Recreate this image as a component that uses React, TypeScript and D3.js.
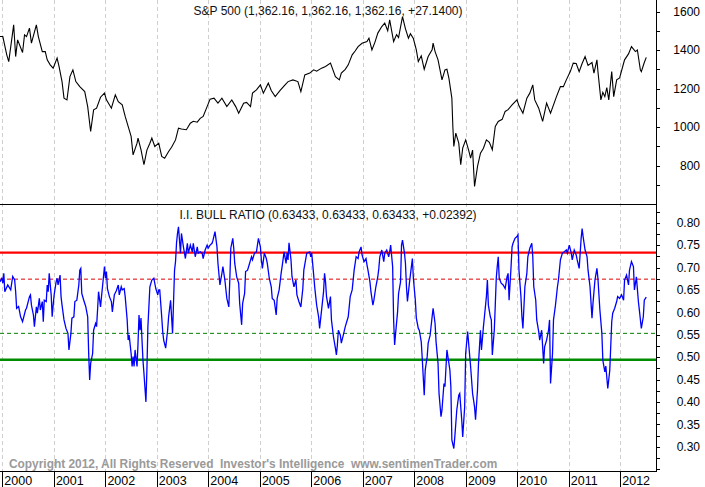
import React, { useEffect, useRef } from 'react';
import * as d3 from 'd3';

// weekly points: [weeks after 2000-01-01, value]
const spx: [number, number][] = [
  [-3, 1470], [0, 1470], [4, 1375], [6, 1340], [11, 1531], [13, 1366], [15, 1453], [20, 1387],
  [22, 1479], [24, 1470], [27, 1514], [29, 1436], [34, 1531], [36, 1470], [40, 1392], [43, 1392],
  [45, 1349], [48, 1323], [51, 1306], [55, 1358], [57, 1314], [60, 1236], [62, 1150], [65, 1141],
  [68, 1262], [71, 1297], [74, 1236], [78, 1210], [83, 1184], [86, 1106], [89, 977], [92, 1089],
  [95, 1098], [99, 1155], [103, 1176], [105, 1141], [110, 1098], [114, 1167], [117, 1132], [121, 1115],
  [124, 1055], [127, 1003], [130, 951], [132, 855], [136, 916], [137, 942], [140, 882], [143, 804],
  [146, 880], [149, 916], [151, 942], [154, 899], [158, 916], [161, 847], [164, 838], [168, 873],
  [171, 895], [175, 933], [178, 994], [181, 990], [186, 986], [190, 1020], [193, 1030], [197, 1025],
  [200, 1045], [203, 1055], [207, 1106], [210, 1145], [214, 1150], [218, 1124], [222, 1150], [227, 1106],
  [232, 1141], [236, 1106], [239, 1072], [244, 1124], [247, 1128], [251, 1106], [253, 1176], [257, 1193],
  [261, 1219], [264, 1176], [269, 1228], [272, 1190], [276, 1158], [281, 1190], [286, 1219], [289, 1236],
  [294, 1245], [299, 1236], [302, 1184], [306, 1271], [311, 1280], [315, 1297], [318, 1290], [323, 1306],
  [327, 1315], [332, 1332], [337, 1262], [341, 1245], [343, 1280], [347, 1300], [350, 1323], [354, 1375],
  [357, 1395], [360, 1418], [364, 1435], [369, 1444], [371, 1462], [374, 1401], [377, 1440], [380, 1488],
  [384, 1522], [387, 1540], [390, 1500], [392, 1557], [396, 1444], [399, 1480], [401, 1465], [405, 1574],
  [408, 1510], [411, 1462], [413, 1485], [416, 1460], [419, 1401], [421, 1340], [424, 1370], [427, 1300],
  [431, 1366], [435, 1401], [436, 1436], [438, 1392], [441, 1349], [445, 1245], [448, 1297], [450, 1300],
  [452, 1254], [455, 1150], [456, 1003], [457, 899], [459, 968], [462, 916], [464, 804], [466, 890],
  [469, 933], [472, 880], [474, 838], [476, 880], [478, 691], [481, 795], [484, 864], [487, 890],
  [490, 933], [493, 920], [496, 882], [499, 1003], [502, 1029], [506, 1040], [509, 1081], [512, 1090],
  [516, 1115], [521, 1141], [523, 1110], [527, 1072], [531, 1150], [534, 1176], [537, 1219], [539, 1141],
  [543, 1098], [547, 1029], [551, 1124], [555, 1072], [561, 1158], [565, 1210], [568, 1210], [571, 1245],
  [575, 1288], [578, 1332], [581, 1330], [584, 1288], [587, 1330], [590, 1366], [593, 1320], [597, 1335],
  [599, 1280], [602, 1349], [603, 1290], [606, 1141], [608, 1180], [610, 1158], [612, 1205], [614, 1141],
  [617, 1288], [619, 1158], [622, 1245], [625, 1255], [630, 1349], [634, 1380], [637, 1418], [641, 1392],
  [643, 1400], [646, 1297], [647, 1288], [650, 1335], [652, 1362],
];

const bullRatio: [number, number][] = [
  [-3, 0.668], [-1, 0.676], [0, 0.665], [1, 0.687], [2, 0.646], [5, 0.661], [8, 0.650], [10, 0.680],
  [12, 0.672], [13, 0.646], [14, 0.609], [16, 0.613], [18, 0.590], [20, 0.579], [23, 0.605], [24, 0.609],
  [27, 0.635], [28, 0.639], [29, 0.616], [31, 0.594], [32, 0.568], [34, 0.612], [35, 0.598], [37, 0.631],
  [38, 0.605], [40, 0.624], [41, 0.579], [42, 0.627], [44, 0.624], [45, 0.661], [46, 0.646], [47, 0.687],
  [49, 0.639], [50, 0.590], [51, 0.616], [52, 0.639], [54, 0.668], [55, 0.676], [56, 0.661], [58, 0.683],
  [59, 0.635], [60, 0.616], [62, 0.583], [64, 0.564], [66, 0.553], [67, 0.516], [69, 0.553], [70, 0.587],
  [72, 0.590], [73, 0.624], [75, 0.627], [77, 0.661], [78, 0.694], [79, 0.698], [80, 0.642], [82, 0.627],
  [84, 0.613], [86, 0.590], [87, 0.508], [88, 0.449], [89, 0.486], [91, 0.508], [92, 0.560], [94, 0.575],
  [95, 0.568], [96, 0.605], [97, 0.646], [99, 0.612], [100, 0.635], [101, 0.657], [103, 0.702], [104, 0.676],
  [105, 0.691], [106, 0.653], [108, 0.635], [110, 0.624], [111, 0.601], [113, 0.639], [115, 0.648], [117, 0.661],
  [118, 0.639], [120, 0.657], [121, 0.650], [123, 0.653], [124, 0.635], [126, 0.583], [127, 0.538], [128, 0.549],
  [130, 0.508], [131, 0.479], [132, 0.501], [133, 0.479], [134, 0.516], [136, 0.479], [137, 0.531], [138, 0.594],
  [139, 0.560], [140, 0.587], [142, 0.493], [143, 0.464], [145, 0.400], [146, 0.471], [147, 0.568], [148, 0.612],
  [149, 0.657], [151, 0.672], [153, 0.676], [155, 0.653], [157, 0.639], [158, 0.650], [159, 0.650], [161, 0.590],
  [162, 0.557], [163, 0.538], [165, 0.520], [167, 0.560], [168, 0.590], [170, 0.627], [172, 0.553], [174, 0.694],
  [175, 0.713], [176, 0.754], [177, 0.776], [178, 0.791], [180, 0.732], [181, 0.776], [183, 0.746], [185, 0.720],
  [187, 0.754], [188, 0.732], [190, 0.750], [192, 0.735], [193, 0.754], [195, 0.724], [197, 0.746], [198, 0.732],
  [200, 0.735], [202, 0.732], [203, 0.720], [205, 0.739], [207, 0.750], [208, 0.743], [210, 0.750], [212, 0.754],
  [213, 0.761], [215, 0.780], [217, 0.746], [218, 0.709], [220, 0.661], [222, 0.687], [223, 0.702], [225, 0.672],
  [227, 0.631], [229, 0.612], [230, 0.672], [231, 0.743], [233, 0.765], [234, 0.743], [235, 0.709], [237, 0.679],
  [239, 0.665], [240, 0.620], [242, 0.572], [243, 0.620], [245, 0.642], [246, 0.691], [248, 0.694], [250, 0.709],
  [252, 0.724], [253, 0.717], [255, 0.732], [257, 0.735], [258, 0.750], [259, 0.765], [261, 0.746], [262, 0.717],
  [263, 0.698], [265, 0.732], [267, 0.720], [268, 0.709], [270, 0.676], [272, 0.657], [273, 0.631], [275, 0.627],
  [277, 0.594], [278, 0.631], [280, 0.650], [282, 0.687], [283, 0.702], [285, 0.735], [287, 0.709], [288, 0.732],
  [289, 0.717], [290, 0.755], [292, 0.717], [293, 0.680], [295, 0.657], [297, 0.672], [298, 0.639], [300, 0.624],
  [302, 0.612], [304, 0.653], [305, 0.694], [307, 0.720], [308, 0.732], [311, 0.735], [312, 0.724], [313, 0.732],
  [315, 0.683], [316, 0.657], [318, 0.616], [320, 0.590], [321, 0.564], [323, 0.605], [325, 0.646], [326, 0.687],
  [327, 0.668], [328, 0.635], [330, 0.609], [332, 0.635], [333, 0.583], [335, 0.546], [337, 0.520], [338, 0.505],
  [339, 0.527], [340, 0.560], [342, 0.549], [343, 0.531], [345, 0.549], [347, 0.568], [350, 0.590], [352, 0.635],
  [354, 0.650], [356, 0.694], [358, 0.724], [360, 0.720], [361, 0.735], [363, 0.746], [364, 0.728], [366, 0.713],
  [368, 0.720], [369, 0.706], [370, 0.694], [372, 0.668], [373, 0.646], [375, 0.616], [376, 0.627], [378, 0.657],
  [380, 0.680], [381, 0.698], [382, 0.724], [384, 0.739], [386, 0.713], [387, 0.732], [389, 0.739], [391, 0.724],
  [392, 0.735], [393, 0.750], [395, 0.702], [396, 0.583], [397, 0.527], [398, 0.553], [400, 0.601], [401, 0.642],
  [403, 0.668], [404, 0.750], [405, 0.761], [407, 0.732], [408, 0.709], [409, 0.657], [410, 0.624], [412, 0.665],
  [414, 0.702], [415, 0.720], [416, 0.676], [418, 0.627], [419, 0.587], [421, 0.564], [422, 0.560], [424, 0.534],
  [425, 0.497], [427, 0.415], [428, 0.471], [430, 0.501], [431, 0.531], [433, 0.549], [435, 0.590], [436, 0.609],
  [438, 0.575], [439, 0.534], [441, 0.486], [442, 0.419], [444, 0.367], [445, 0.382], [447, 0.441], [448, 0.434],
  [450, 0.516], [451, 0.501], [453, 0.471], [454, 0.434], [455, 0.315], [457, 0.296], [458, 0.322], [460, 0.382],
  [462, 0.415], [463, 0.419], [465, 0.360], [466, 0.322], [468, 0.389], [469, 0.508], [471, 0.557], [472, 0.531],
  [474, 0.479], [476, 0.419], [478, 0.389], [479, 0.360], [481, 0.427], [482, 0.486], [484, 0.560], [485, 0.516],
  [487, 0.568], [488, 0.590], [490, 0.635], [491, 0.672], [492, 0.616], [494, 0.590], [495, 0.583], [496, 0.505],
  [498, 0.560], [499, 0.616], [500, 0.676], [501, 0.702], [502, 0.724], [503, 0.676], [505, 0.665], [507, 0.661],
  [509, 0.653], [511, 0.680], [512, 0.687], [513, 0.627], [515, 0.702], [516, 0.746], [517, 0.754], [519, 0.765],
  [521, 0.769], [522, 0.773], [523, 0.694], [525, 0.635], [526, 0.590], [527, 0.564], [529, 0.657], [531, 0.687],
  [532, 0.724], [534, 0.743], [536, 0.754], [537, 0.724], [538, 0.657], [540, 0.627], [541, 0.583], [543, 0.557],
  [544, 0.538], [546, 0.560], [548, 0.486], [549, 0.523], [551, 0.538], [553, 0.560], [554, 0.583], [555, 0.441],
  [557, 0.508], [558, 0.583], [560, 0.616], [562, 0.657], [563, 0.672], [565, 0.717], [567, 0.732], [569, 0.735],
  [571, 0.739], [572, 0.732], [574, 0.750], [576, 0.732], [577, 0.717], [579, 0.739], [581, 0.728], [582, 0.717],
  [584, 0.698], [586, 0.765], [587, 0.787], [588, 0.769], [590, 0.739], [592, 0.724], [593, 0.694], [595, 0.657],
  [597, 0.587], [598, 0.620], [600, 0.672], [602, 0.698], [603, 0.676], [605, 0.605], [607, 0.553], [608, 0.493],
  [610, 0.467], [611, 0.480], [613, 0.430], [615, 0.470], [617, 0.579], [618, 0.598], [620, 0.609], [622, 0.624],
  [623, 0.635], [625, 0.631], [627, 0.639], [629, 0.627], [630, 0.672], [632, 0.683], [634, 0.661], [635, 0.694],
  [637, 0.713], [639, 0.702], [640, 0.650], [642, 0.679], [644, 0.624], [645, 0.605], [647, 0.564], [649, 0.590],
  [650, 0.627], [652, 0.634],
];

const years = d3.range(2000, 2013);
const spxTicks = [800, 1000, 1200, 1400, 1600];
const ratioTicks = [0.30, 0.35, 0.40, 0.45, 0.50, 0.55, 0.60, 0.65, 0.70, 0.75, 0.80];
const ratioLevels = [0.733, 0.674, 0.553, 0.494];
const spxTitle = 'S&P 500 (1,362.16, 1,362.16, 1,362.16, +27.1400)';
const ratioTitle = 'I.I. BULL RATIO (0.63433, 0.63433, 0.63433, +0.02392)';
const copyright = "Copyright 2012, All Rights Reserved  Investor's Intelligence  www.sentimenTrader.com";

const FONT = '"Liberation Sans", Arial, sans-serif';

const weekDate = (w: number) => new Date(2000, 0, 1 + 7 * w);

const App = () => {
  const ref = useRef<SVGSVGElement>(null);

  useEffect(() => {
    const W = 705, H = 487;
    const right = 656;
    const split = 204;
    const bottom = 471.5;

    const svg = d3.select(ref.current);
    svg.selectAll('*').remove();

    svg.append('rect').attr('width', W).attr('height', H).attr('fill', '#fff');

    const x = d3.scaleTime()
      .domain([new Date(1999, 11, 12), new Date(2012, 8, 7)])
      .range([0, right]);
    const yTop = d3.scaleLinear().domain([600, 1660]).range([split, 0]);
    const yBot = d3.scaleLinear().domain([0.80, 0.30]).range([222.7, 446.7]);

    const defs = svg.append('defs');
    defs.append('clipPath').attr('id', 'clipTop')
      .append('rect').attr('x', 0).attr('y', 0).attr('width', right).attr('height', split);
    defs.append('clipPath').attr('id', 'clipBot')
      .append('rect').attr('x', 0).attr('y', split).attr('width', right).attr('height', bottom - split);

    // year gridlines
    svg.append('g').selectAll('line')
      .data(years)
      .join('line')
      .attr('x1', d => x(new Date(d, 0, 1)))
      .attr('x2', d => x(new Date(d, 0, 1)))
      .attr('y1', 0)
      .attr('y2', bottom)
      .attr('stroke', '#cfcfcf')
      .attr('stroke-dasharray', '4,3')
      .attr('shape-rendering', 'crispEdges');

    // titles
    svg.append('text')
      .attr('x', right / 2).attr('y', 15)
      .attr('text-anchor', 'middle')
      .attr('font-family', FONT).attr('font-size', 12)
      .attr('fill', '#111')
      .text(spxTitle);
    svg.append('text')
      .attr('x', right / 2).attr('y', 219)
      .attr('text-anchor', 'middle')
      .attr('font-family', FONT).attr('font-size', 12)
      .attr('fill', '#111')
      .text(ratioTitle);

    // S&P line
    const lineTop = d3.line<[number, number]>()
      .x(d => x(weekDate(d[0])))
      .y(d => yTop(d[1]));
    svg.append('path')
      .datum(spx)
      .attr('clip-path', 'url(#clipTop)')
      .attr('d', lineTop)
      .attr('fill', 'none')
      .attr('stroke', '#000')
      .attr('stroke-width', 1.1);

    // ratio reference levels
    const levelStyle = [
      { color: '#ff0000', width: 2.2, dash: null },
      { color: '#e00000', width: 1, dash: '4,3' },
      { color: '#008000', width: 1, dash: '4,3' },
      { color: '#008c00', width: 2.4, dash: null },
    ];
    svg.append('g').selectAll('line')
      .data(ratioLevels)
      .join('line')
      .attr('x1', 0).attr('x2', right)
      .attr('y1', d => yBot(d)).attr('y2', d => yBot(d))
      .attr('stroke', (d, i) => levelStyle[i].color)
      .attr('stroke-width', (d, i) => levelStyle[i].width)
      .attr('stroke-dasharray', (d, i) => levelStyle[i].dash);

    const lineBot = d3.line<[number, number]>()
      .x(d => x(weekDate(d[0])))
      .y(d => yBot(d[1]));
    svg.append('path')
      .datum(bullRatio)
      .attr('clip-path', 'url(#clipBot)')
      .attr('d', lineBot)
      .attr('fill', 'none')
      .attr('stroke', '#0000ff')
      .attr('stroke-width', 1.3);

    // copyright
    svg.append('text')
      .attr('x', 9).attr('y', 467.5)
      .attr('font-family', FONT).attr('font-size', 11.9).attr('font-weight', 'bold')
      .attr('fill', '#9a9a9a')
      .style('white-space', 'pre')
      .text(copyright);

    // frame lines
    const frame = svg.append('g').attr('stroke', '#000').attr('shape-rendering', 'crispEdges');
    frame.append('line').attr('x1', 0).attr('x2', right).attr('y1', split).attr('y2', split);
    frame.append('line').attr('x1', 0).attr('x2', right).attr('y1', bottom).attr('y2', bottom);
    frame.append('line').attr('x1', right).attr('x2', right).attr('y1', 0).attr('y2', bottom);

    // right axes
    const topAxis = svg.append('g')
      .attr('transform', `translate(${right},0)`)
      .call(d3.axisRight(yTop).tickValues(d3.range(700, 1601, 100)).tickSize(4).tickFormat(() => ''));
    topAxis.select('.domain').remove();
    topAxis.selectAll('line').attr('shape-rendering', 'crispEdges');

    const botAxis = svg.append('g')
      .attr('transform', `translate(${right},0)`)
      .call(d3.axisRight(yBot).tickValues(d3.range(0.25, 0.826, 0.025)).tickSize(4).tickFormat(() => ''));
    botAxis.select('.domain').remove();
    botAxis.selectAll('line').attr('shape-rendering', 'crispEdges');

    svg.append('g').selectAll('text')
      .data(spxTicks)
      .join('text')
      .attr('x', 700).attr('y', d => yTop(d))
      .attr('dy', '0.35em')
      .attr('text-anchor', 'end')
      .attr('font-family', FONT).attr('font-size', 12)
      .attr('fill', '#000')
      .text(d => String(d));

    svg.append('g').selectAll('text')
      .data(ratioTicks)
      .join('text')
      .attr('x', 700).attr('y', d => yBot(d))
      .attr('dy', '0.35em')
      .attr('text-anchor', 'end')
      .attr('font-family', FONT).attr('font-size', 12)
      .attr('fill', '#000')
      .text(d => d3.format('.2f')(d));

    // year axis
    const yearG = svg.append('g');
    yearG.selectAll('line')
      .data(years)
      .join('line')
      .attr('x1', d => x(new Date(d, 0, 1)))
      .attr('x2', d => x(new Date(d, 0, 1)))
      .attr('y1', bottom).attr('y2', H)
      .attr('stroke', '#000')
      .attr('shape-rendering', 'crispEdges');
    yearG.selectAll('text')
      .data(years)
      .join('text')
      .attr('x', d => x(new Date(d, 0, 1)) + 1.5)
      .attr('y', 485)
      .attr('font-family', FONT).attr('font-size', 12.5)
      .attr('fill', '#000')
      .text(d => String(d));
  }, []);

  return (
    <svg
      ref={ref}
      width={705}
      height={487}
      style={{ position: 'absolute', left: 0, top: 0, display: 'block' }}
    />
  );
};

export default App;
